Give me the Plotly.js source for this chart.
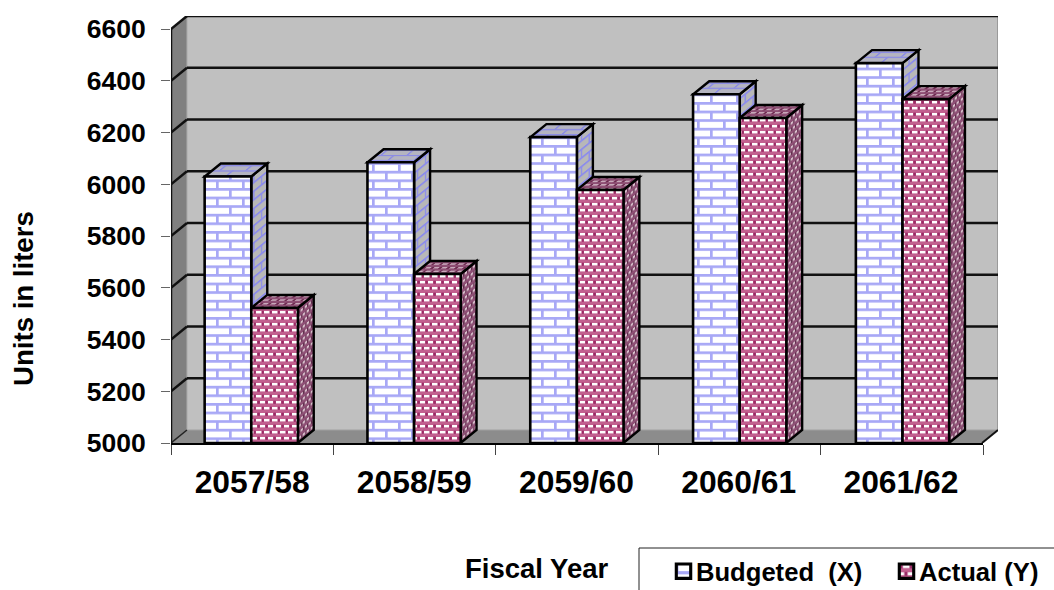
<!DOCTYPE html>
<html>
<head>
<meta charset="utf-8">
<script src="https://cdn.plot.ly/plotly-3.0.1.min.js"></script>
<style>html,body{margin:0;padding:0;background:#fff;overflow:hidden}</style>
</head>
<body>
<div id="chart" style="width:1054px;height:590px"></div>
<script>
// Fuel use per fiscal year, budgeted against actual
const years = ['2057/58', '2058/59', '2059/60', '2060/61', '2061/62'];
const budgeted = [6030, 6085, 6182, 6348, 6468];
const actual = [5522, 5653, 5978, 6256, 6329];
const yTicks = [5000, 5200, 5400, 5600, 5800, 6000, 6200, 6400, 6600];
const seriesNames = ['Budgeted\u00a0\u00a0(X)', 'Actual (Y)'];

// Pseudo-3D depth of the chart box, in axis units
const floorValue = 5000;
const depthX = 0.0985;
const depthY = 50.2;
const barGap = 0.427;
const barWidth = (1 - barGap) / 2;
const centers = years.map((_, i) => i + 0.5);
// Column groups run on a very slightly wider pitch than the year slots
const groupCenters = years.map((_, i) => i * 1.0037 + 0.495);

const FF = '"Liberation Sans", Arial, sans-serif';
const INK = '#000';

const shapes = [];
const shapePatterns = {};
function face(points, fill, pattern, lineWidth) {
  const path = points.map((p, i) => (i ? 'L' : 'M') + p[0] + ',' + p[1]).join(' ') + ' Z';
  if (pattern) shapePatterns[shapes.length] = pattern;
  shapes.push({type: 'path', path, xref: 'x', yref: 'y', layer: 'below',
    fillcolor: fill, line: {color: INK, width: lineWidth}});
}
function segment(x0, y0, x1, y1, color, width) {
  shapes.push({type: 'line', x0, y0, x1, y1, xref: 'x', yref: 'y', layer: 'below',
    line: {color, width}});
}

// Walls and floor of the box
const topValue = yTicks[yTicks.length - 1];
const last = years.length;
shapes.push({type: 'path', xref: 'x', yref: 'y', layer: 'below', fillcolor: '#c0c0c0', line: {width: 0},
  path: `M${depthX},${floorValue + depthY} L${last + depthX},${floorValue + depthY} L${last + depthX},${topValue + depthY} L${depthX},${topValue + depthY} Z`});
shapes.push({type: 'path', xref: 'x', yref: 'y', layer: 'below', fillcolor: '#808080', line: {width: 0},
  path: `M0,${floorValue} L${depthX},${floorValue + depthY} L${depthX},${topValue + depthY} L0,${topValue} Z`});
shapes.push({type: 'path', xref: 'x', yref: 'y', layer: 'below', fillcolor: '#8c8c8c', line: {width: 0},
  path: `M0,${floorValue} L${depthX},${floorValue + depthY} L${last + depthX},${floorValue + depthY} L${last},${floorValue} Z`});
segment(last + depthX, floorValue + depthY, last + depthX, topValue + depthY, '#9a9a9a', 2);
segment(depthX, floorValue + depthY, depthX, topValue + depthY, '#a8a8a8', 1);
segment(depthX, floorValue + depthY, last + depthX, floorValue + depthY, '#a0a0a0', 1);

// Gridlines run along the back wall and down the side wall
yTicks.forEach(v => {
  if (v > floorValue) {
    segment(depthX, v + depthY, last + depthX, v + depthY, '#111', 2.5);
    segment(0, v, depthX, v + depthY, '#111', 2.5);
  }
});
segment(0, floorValue, depthX, floorValue + depthY, '#222', 1.5);
segment(last, floorValue, last + depthX, floorValue + depthY, '#111', 2);
segment(0, floorValue, 0, topValue, '#111', 2.5);

// Top and side faces of each column
function prism(center, offset, value, sidePattern, topPattern) {
  const x0 = center + offset;
  const x1 = x0 + barWidth;
  face([[x1, floorValue], [x1 + depthX, floorValue + depthY], [x1 + depthX, value + depthY], [x1, value]], '#999', sidePattern, 2.4);
  face([[x0, value], [x0 + depthX, value + depthY], [x1 + depthX, value + depthY], [x1, value]], '#999', topPattern, 2.4);
}
groupCenters.forEach((c, i) => prism(c, -barWidth, budgeted[i], 'brickSide', 'brickTop'));
groupCenters.forEach((c, i) => prism(c, 0, actual[i], 'weaveSide', 'weaveTop'));

// Frame round the legend, left open past the page edge
const pxX = px => (px - 171) / 827;
const pxY = py => (443 - py) / 427;
shapes.push({type: 'path', xref: 'paper', yref: 'paper', path:
  `M${pxX(639)},${pxY(592)} L${pxX(639)},${pxY(548)} L${pxX(1056)},${pxY(548)}`,
  line: {color: '#222', width: 1}});

const bar = (name, values, fill) => ({
  type: 'bar', name, x: groupCenters,
  y: values.map(v => v - floorValue), base: floorValue,
  marker: {color: fill, line: {color: INK, width: 2.6}},
  hoverinfo: 'skip'
});

const data = [
  bar(seriesNames[0], budgeted, '#ffffff'),
  bar(seriesNames[1], actual, '#993366'),
  // carries the divider ticks between the fiscal years
  {type: 'scatter', x: [0], y: [floorValue], xaxis: 'x2', yaxis: 'y', mode: 'none', showlegend: false, hoverinfo: 'skip'}
];

const layout = {
  width: 1054, height: 590,
  margin: {l: 171, r: 56, t: 16, b: 147, pad: 0, autoexpand: false},
  paper_bgcolor: '#fff', plot_bgcolor: 'rgba(0,0,0,0)',
  barmode: 'group', bargap: barGap, bargroupgap: 0,
  font: {family: FF, color: INK},
  showlegend: true,
  legend: {orientation: 'h', x: pxX(656), y: pxY(548), xanchor: 'left', yanchor: 'top',
    bgcolor: 'rgba(0,0,0,0)', font: {family: FF, size: 25.6, color: INK, weight: 700},
    itemwidth: 30, entrywidth: 178, entrywidthmode: 'pixels', traceorder: 'normal'},
  xaxis: {
    domain: [0, 1], range: [0, last + depthX], tickmode: 'array', tickvals: centers, ticktext: years,
    ticks: '', tickangle: 0, showgrid: false, zeroline: false, showline: false, ticklabelstandoff: 17,
    tickfont: {family: FF, size: 31.8, color: INK, weight: 700}
  },
  xaxis2: {
    domain: [0, 812 / 827], range: [0, last], anchor: 'y', tickmode: 'array', tickvals: [0, 1, 2, 3, 4, 5],
    ticktext: ['', '', '', '', '', ''], ticks: 'outside', ticklen: 10, tickwidth: 1, tickcolor: '#444',
    showline: true, linecolor: '#000', linewidth: 2, showgrid: false, zeroline: false, layer: 'above traces'
  },
  yaxis: {
    range: [floorValue, floorValue + 427 / 51.75 * 200], tickmode: 'array', tickvals: yTicks,
    ticks: 'outside', ticklen: 9, tickwidth: 1, tickcolor: '#666', showgrid: false, zeroline: false, showline: false,
    ticklabelstandoff: 10,
    tickfont: {family: FF, size: 26.5, color: INK, weight: 700}
  },
  shapes,
  annotations: [{
    text: 'Fiscal Year', xref: 'paper', yref: 'paper', x: pxX(537), y: pxY(568),
    xanchor: 'center', yanchor: 'middle', showarrow: false,
    font: {family: FF, size: 27.5, color: INK, weight: 700}
  }, {
    text: 'Units in liters', xref: 'paper', yref: 'paper', x: pxX(23), y: pxY(299),
    xanchor: 'center', yanchor: 'middle', showarrow: false, textangle: -90,
    font: {family: FF, size: 27.6, color: INK, weight: 700}
  }]
};

// SVG tiles for the brick and woven column fills
function tile(id, w, h, bg, body, transform) {
  return `<pattern id="${id}" patternUnits="userSpaceOnUse" width="${w}" height="${h}"` +
    (transform ? ` patternTransform="${transform}"` : '') + `><rect width="${w}" height="${h}" fill="${bg}"/>${body}</pattern>`;
}
const brick = (c, t) => `<g fill="${c}">` +
  `<rect x="0" y="0" width="26" height="${t}"/><rect x="0" y="8.6" width="26" height="${t}"/>` +
  `<rect x="6" y="0" width="${t}" height="8.6"/><rect x="19" y="8.6" width="${t}" height="8.6"/></g>`;
const weave = (dark, light) =>
  `<g fill="${light}"><rect x="1" y="1" width="5" height="2.4"/><rect x="9" y="1" width="5" height="2.4"/>` +
  `<rect x="5" y="7" width="5.5" height="2.4"/><rect x="13" y="7" width="3" height="2.4"/><rect x="0" y="7" width="2.5" height="2.4"/></g>` +
  `<g fill="${dark}"><rect x="6.4" y="0.6" width="2.4" height="3.2"/><rect x="14.4" y="0.6" width="1.6" height="3.2"/><rect x="0" y="0.6" width="0.8" height="3.2"/>` +
  `<rect x="2.8" y="6.6" width="2" height="3.2"/><rect x="10.8" y="6.6" width="2" height="3.2"/></g>`;
const tiles =
  tile('brick', 26, 17.2, '#ffffff', brick('#a8a8f6', 2.7)) +
  tile('brickSide', 26, 17.2, '#b8b8b8', brick('#8c8cec', 2.2), 'skewY(-39) scale(.6 1)') +
  tile('brickTop', 26, 17.2, '#b4b4c0', brick('#8c8ce4', 2.2), 'skewX(-50) scale(1 .6)') +
  tile('weave', 16, 12, '#c2608f', weave('#9a2a66', '#ffffff')) +
  tile('weaveSide', 16, 12, '#8f5076', weave('#4e1a3a', '#d8c0cc'), 'skewY(-39) scale(.5 1)') +
  tile('weaveTop', 16, 12, '#8e4f74', weave('#6a264c', '#c8a8ba'), 'skewX(-50) scale(1 .6)');

const gd = document.getElementById('chart');
Plotly.newPlot(gd, data, layout, {displayModeBar: false, staticPlot: true}).then(() => {
  const svg = gd.querySelector('svg.main-svg');
  const ns = 'http://www.w3.org/2000/svg';
  const holder = document.createElementNS('http://www.w3.org/1999/xhtml', 'div');
  holder.innerHTML = `<svg xmlns="${ns}"><defs>${tiles}</defs></svg>`;
  svg.insertBefore(holder.querySelector('defs'), svg.firstChild);

  const fills = ['brick', 'weave'];
  gd.querySelectorAll('.barlayer .trace.bars').forEach((tr, i) => {
    tr.querySelectorAll('.point path').forEach(p => { p.style.fill = `url(#${fills[i]})`; });
  });
  gd.querySelectorAll('.legend .traces').forEach((tr, i) => {
    const swatch = tr.querySelector('.legendpoints path, .legendbar path, path');
    if (swatch) {
      swatch.style.fill = `url(#${fills[i]})`;
      swatch.setAttribute('transform', 'translate(27.5,0) scale(1.2)');
    }
  });
  Object.keys(shapePatterns).forEach(idx => {
    const p = gd.querySelector(`path[data-index="${idx}"]`);
    if (p) { p.style.fill = `url(#${shapePatterns[idx]})`; p.style.fillOpacity = 1; }
  });
});
</script>
</body>
</html>
